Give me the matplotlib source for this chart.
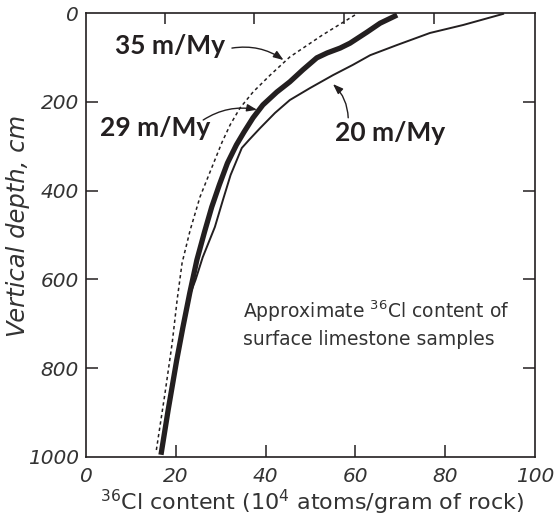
import matplotlib
matplotlib.use("Agg")
import matplotlib.pyplot as plt

# Modelled 36Cl profiles for three erosion rates (x: 10^4 atoms/g, y: depth in cm)
depth_35 = [4.5, 50, 99, 140, 178, 214, 252, 291, 331, 414, 489, 563, 646, 743, 856, 989]
cl_35 = [59.9, 52.6, 45.4, 41.0, 37.2, 34.3, 32.1, 30.3, 28.7, 25.4, 23.2, 21.4, 20.3,
         19.2, 17.6, 15.6]

depth_29 = [4.5, 23, 43, 68, 79, 90, 101, 128, 155, 178, 207, 236, 268, 297, 338,
            387, 437, 493, 556, 631, 707, 782, 894, 995]
cl_29 = [69.3, 65.5, 62.6, 58.8, 56.6, 53.7, 51.4, 48.3, 45.4, 42.5, 39.4, 37.2, 35.2,
         33.5, 31.5, 29.7, 28.0, 26.4, 24.7, 23.1, 21.6, 20.2, 18.3, 16.7]

depth_20 = [2, 27, 45, 72, 95, 117, 140, 169, 196, 225, 259, 286, 304, 365, 421, 482,
            550, 601, 625]
cl_20 = [92.9, 84.0, 76.6, 69.3, 63.3, 59.4, 55.0, 49.9, 45.4, 42.1, 38.8, 36.3, 34.7,
         32.2, 30.5, 28.7, 26.0, 24.4, 23.5]

x_ticks = [0, 20, 40, 60, 80, 100]
y_ticks = [0, 200, 400, 600, 800, 1000]
top_ticks = [17.5, 37.5, 57.5, 77.5]

INK = "#231f20"
GREY = "#333333"
BODY = "DejaVu Sans"
HEAD = "Lato"

W, H = 555, 518
fig = plt.figure(figsize=(W / 100, H / 100), dpi=100)
ax = fig.add_axes([86 / W, 1 - 457 / H, 449 / W, 444 / H])

ax.plot(cl_35, depth_35, color=INK, lw=1.1, linestyle=(0, (2.2, 2.0)))
ax.plot(cl_20, depth_20, color=INK, lw=1.4, solid_joinstyle="round")
ax.plot(cl_29, depth_29, color=INK, lw=3.8, solid_capstyle="butt",
        solid_joinstyle="round")

ax.set_xlim(0, 100)
ax.set_ylim(1000, 0)

for s in ax.spines.values():
    s.set_color(INK)
    s.set_linewidth(1.2)

tick_font = dict(fontfamily=BODY, fontstyle="oblique", fontsize=14.5, color=GREY)
ax.set_xticks(x_ticks)
ax.set_yticks(y_ticks)
ax.set_xticklabels([str(v) for v in x_ticks], **tick_font)
ax.set_yticklabels([str(v) for v in y_ticks], **tick_font)
ax.tick_params(axis="both", direction="in", length=8.5, width=1.1, color=INK,
               right=True, top=False)
ax.tick_params(axis="x", pad=7)
ax.tick_params(axis="y", pad=5)
ax.yaxis.set_tick_params(which="major", right=True, labelright=False)
# no tick marks at the axis ends
for t in ax.xaxis.get_major_ticks():
    if t.get_loc() in (0, 100):
        t.tick1line.set_visible(False)
for t in ax.yaxis.get_major_ticks():
    if t.get_loc() in (0, 1000):
        t.tick1line.set_visible(False)
        t.tick2line.set_visible(False)

top = ax.secondary_xaxis("top")
top.set_xticks(top_ticks)
top.set_xticklabels([])
top.tick_params(direction="in", length=8, width=1.1, color=INK)
top.spines["top"].set_visible(False)

fig.text(312 / W, 1 - 510 / H, "$^{36}$Cl content (10$^{4}$ atoms/gram of rock)",
         fontfamily=BODY, fontsize=16, color=GREY, ha="center", va="baseline")
fig.text(18.5 / W, 1 - 226 / H, "Vertical depth, cm", fontfamily=BODY,
         fontstyle="oblique", fontsize=17.5, color=GREY, rotation=90,
         ha="center", va="center")

label_kw = dict(fontfamily=HEAD, fontweight="bold", fontsize=19, color=INK,
                ha="center", va="center")
arrow_kw = dict(arrowstyle="-|>,head_length=0.6,head_width=0.22", color=INK, lw=1.0,
                shrinkA=0, shrinkB=0)

ax.annotate("", xy=(44.0, 106), xytext=(32.5, 79),
            arrowprops=dict(connectionstyle="arc3,rad=-0.2", **arrow_kw))
ax.text(18.8, 74, "35 m/My", **label_kw)

ax.annotate("", xy=(38.1, 218), xytext=(26.1, 241),
            arrowprops=dict(connectionstyle="arc3,rad=-0.2", **arrow_kw))
ax.text(15.4, 258, "29 m/My", **label_kw)

ax.annotate("", xy=(55.0, 160), xytext=(58.4, 236),
            arrowprops=dict(connectionstyle="arc3,rad=0.2", **arrow_kw))
ax.text(67.8, 270, "20 m/My", **label_kw)

ax.text(35.0, 687, "Approximate $^{36}$Cl content of", fontfamily=BODY,
        fontsize=13.5, color=GREY, ha="left", va="baseline")
ax.text(35.0, 748, "surface limestone samples", fontfamily=BODY,
        fontsize=13.5, color=GREY, ha="left", va="baseline")

fig.savefig("out.png", dpi=100)
